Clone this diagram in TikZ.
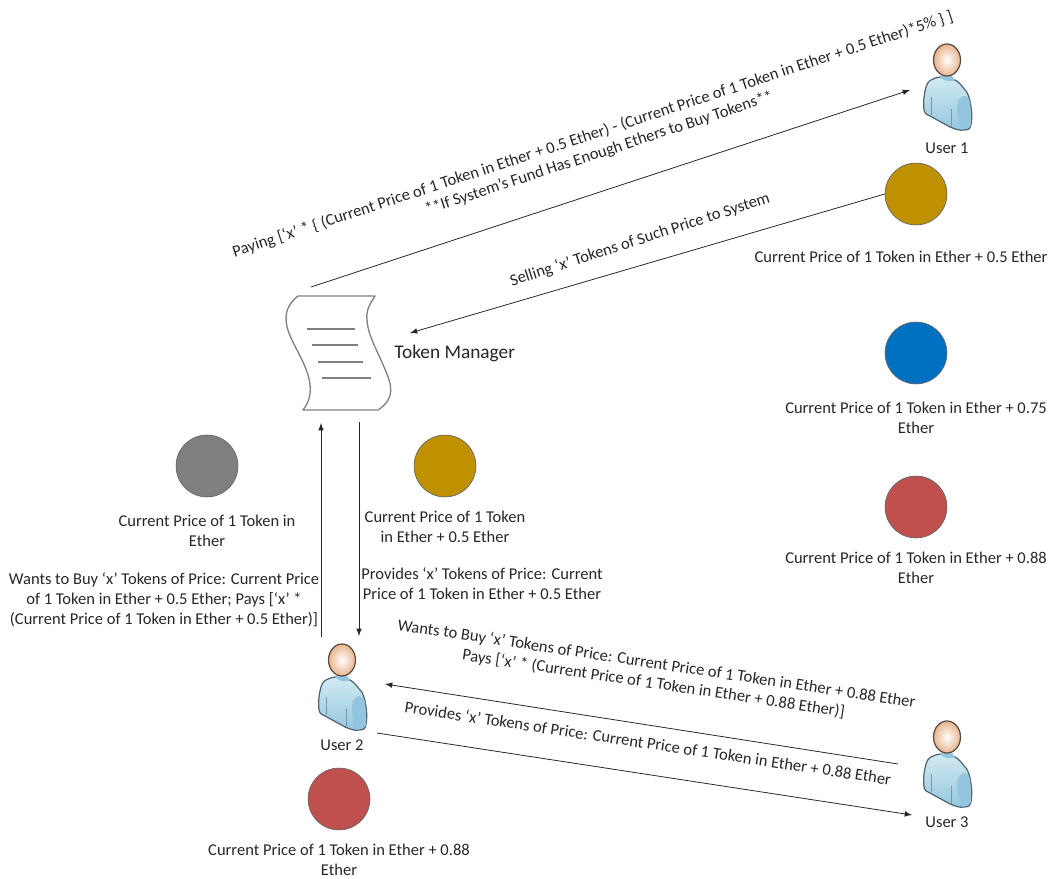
\documentclass[tikz,border=0pt]{standalone}
\usepackage{fontspec}
\setmainfont{Carlito}
\usetikzlibrary{arrows,positioning}

\definecolor{coingold}{HTML}{BF9000}
\definecolor{coinblue}{HTML}{0070C0}
\definecolor{coinred}{HTML}{C0504D}
\definecolor{coingrey}{HTML}{7F7F7F}
\definecolor{skinedge}{HTML}{5A4A42}
\definecolor{skintan}{HTML}{E8B48C}
\definecolor{bodyedge}{HTML}{4F6570}
\definecolor{bodytop}{HTML}{D2EAF2}
\definecolor{bodylow}{HTML}{93C6DE}
\definecolor{armmid}{HTML}{BCE2EC}

\tikzset{
    txt/.style={font=\fontsize{9.4}{11.3}\selectfont,text=black!85,align=center,inner sep=0pt},
    coin/.style={circle,draw=black!60,line width=0.4pt,minimum size=35.2pt,inner sep=0pt},
    link/.style={-latex,line width=0.45pt,black!85},
    person/.pic={
        \path[draw=bodyedge,line width=0.7pt,top color=bodytop,bottom color=bodylow]
            (-7,17) .. controls (-14,18) and (-20,21) .. (-21,27)
            .. controls (-23,34) and (-24,42) .. (-23,50)
            .. controls (-22,54) and (-20,55) .. (-17,56)
            -- (3,67) .. controls (8,69) and (13,71) .. (17,70)
            .. controls (22,70) and (24,68) .. (24,65)
            .. controls (25,58) and (25,52) .. (24,47)
            .. controls (23,38) and (20,31) .. (18,30)
            .. controls (15,26) and (12,22) .. (8,20)
            -- cycle;
        \path[fill=bodylow,draw=none]
            (-7,17) .. controls (-3,22) and (4,22) .. (8,20) -- (5,16) -- (-5,15) -- cycle;
        \path[left color=bodylow,middle color=armmid,right color=bodylow]
            (11,41) .. controls (14,35) and (20,33) .. (23,42)
            -- (24,65) .. controls (22,69) and (17,70) .. (13,69)
            .. controls (11,60) and (10,50) .. (11,41) -- cycle;
        \draw[bodyedge!70,line width=0.4pt] (-16,37) -- (-16,55);
        \draw[bodyedge!70,line width=0.4pt] (4,49) -- (4,67);
        \shade[draw=skinedge,line width=0.7pt,inner color=white,outer color=skintan]
            (0,0) ellipse (13.5 and 16);
    }
}

\begin{document}
\begin{tikzpicture}[x=0.02cm,y=-0.02cm]
    \useasboundingbox (0,0) rectangle (1055,879);

    % token manager scroll
    \draw[black!50,line width=0.75pt,line join=round]
        (298,296) -- (375,296)
        .. controls (369,305) and (366,311) .. (367,320)
        .. controls (368,336) and (378,352) .. (384,367)
        .. controls (392,385) and (396,398) .. (378,410)
        -- (303,410)
        .. controls (311,400) and (312,388) .. (308,375)
        .. controls (303,358) and (291,342) .. (287,327)
        .. controls (284,313) and (288,304) .. (298,296) -- cycle;
    \draw[black!50,line width=0.6pt] (307,329) -- (355,329);
    \draw[black!50,line width=0.6pt] (312,345) -- (358,345);
    \draw[black!50,line width=0.6pt] (318,362) -- (363,362);
    \draw[black!50,line width=0.6pt] (322,378) -- (371,378);
    \node[txt,font=\fontsize{11}{13}\selectfont,anchor=west] (manager) at (394,353) {Token Manager};

    % users
    \pic (p1) at (947,60) {person};
    \pic (p2) at (342,660) {person};
    \pic (p3) at (947,737) {person};
    \node[txt] (user1) at (947,148) {User 1};
    \node[txt] (user2) at (342,745) {User 2};
    \node[txt] (user3) at (947,822) {User 3};

    % coins
    \node[coin,fill=coingold] (goldA) at (916,194) {};
    \node[coin,fill=coinblue] (blueA) at (916,353) {};
    \node[coin,fill=coinred] (redA) at (916,507) {};
    \node[coin,fill=coingrey] (greyA) at (207,466) {};
    \node[coin,fill=coingold] (goldB) at (445,466) {};
    \node[coin,fill=coinred] (redB) at (339,799) {};

    \node[txt] (goldAtxt) at (901,257) {Current Price of 1 Token in Ether + 0.5 Ether};
    \node[txt] (blueAtxt) at (916,418) {Current Price of 1 Token in Ether + 0.75\\Ether};
    \node[txt] (redAtxt) at (916,568) {Current Price of 1 Token in Ether + 0.88\\Ether};
    \node[txt] (greyAtxt) at (207,531) {Current Price of 1 Token in\\Ether};
    \node[txt] (goldBtxt) at (445,527) {Current Price of 1 Token\\in Ether + 0.5 Ether};
    \node[txt] (redBtxt) at (339,860) {Current Price of 1 Token in Ether + 0.88\\Ether};

    % free ends of the arrows
    \coordinate (payS) at (311,287);
    \coordinate (payE) at (910,90);
    \coordinate (sellE) at (410,333);
    \coordinate (upS) at (321,637);
    \coordinate (upE) at (321,423);
    \coordinate (downS) at (359,422);
    \coordinate (downE) at (359,636);
    \coordinate (buyS) at (898,764);
    \coordinate (buyE) at (385,684);
    \coordinate (giveS) at (377,733);
    \coordinate (giveE) at (912,815);

    \draw[link] (payS) -- (payE);
    \draw[link] (goldA.west) -- (sellE);
    \draw[link] (upS) -- (upE);
    \draw[link] (downS) -- (downE);
    \draw[link] (buyS) -- (buyE);
    \draw[link] (giveS) -- (giveE);

    % arrow labels
    \node[txt,rotate=18.2] (paytxt) at (596,144) {Paying [‘x’ * \{ (Current Price of 1 Token in Ether + 0.5 Ether) - (Current Price of 1 Token in Ether + 0.5 Ether)*5\% \} ]\\**If System’s Fund Has Enough Ethers to Buy Tokens**};
    \node[txt,rotate=18] (selltxt) at (640,240) {Selling ‘x’ Tokens of Such Price to System};
    \node[txt] (buyAtxt) at (164,600) {Wants to Buy ‘x’ Tokens of Price: Current Price\\of 1 Token in Ether + 0.5 Ether; Pays [‘x’ *\\(Current Price of 1 Token in Ether + 0.5 Ether)]};
    \node[txt] (giveAtxt) at (482,584) {Provides ‘x’ Tokens of Price: Current\\Price of 1 Token in Ether + 0.5 Ether};
    \node[txt,rotate=-8.5] (buyBtxt) at (655,674) {Wants to Buy ‘x’ Tokens of Price: Current Price of 1 Token in Ether + 0.88 Ether\\Pays [‘x’ * (Current Price of 1 Token in Ether + 0.88 Ether)]};
    \node[txt,rotate=-8.5] (giveBtxt) at (648,743) {Provides ‘x’ Tokens of Price: Current Price of 1 Token in Ether + 0.88 Ether};
\end{tikzpicture}
\end{document}
